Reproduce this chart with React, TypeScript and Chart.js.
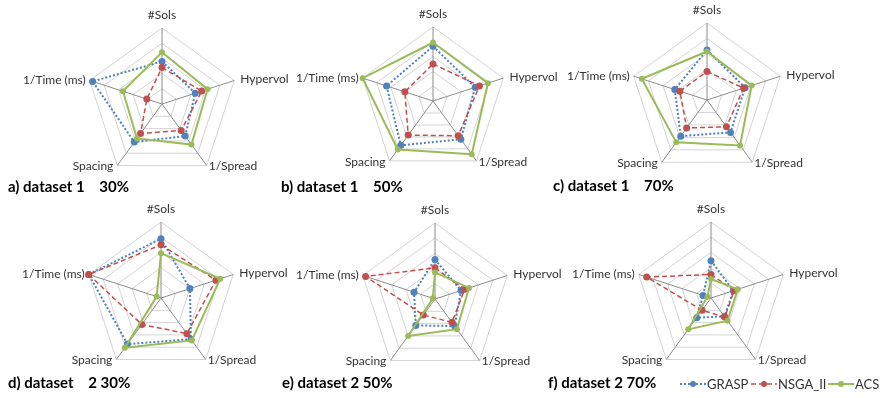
import React, { useEffect, useRef } from "react";
import { Chart, registerables } from "chart.js";

Chart.register(...registerables);

const axisLabels = ["#Sols", "Hypervol", "1/Spread", "Spacing", "1/Time (ms)"];
const seriesNames = ["GRASP", "NSGA_II", "ACS"];

const graspA = [0.56, 0.46, 0.52, 0.62, 0.96];
const nsgaA = [0.48, 0.55, 0.43, 0.48, 0.21];
const acsA = [0.68, 0.63, 0.66, 0.56, 0.54];

const graspB = [0.74, 0.6, 0.64, 0.74, 0.66];
const nsgaB = [0.5, 0.66, 0.58, 0.57, 0.4];
const acsB = [0.79, 0.78, 0.89, 0.81, 1.0];

const graspC = [0.65, 0.52, 0.52, 0.58, 0.44];
const nsgaC = [0.37, 0.5, 0.43, 0.45, 0.37];
const acsC = [0.63, 0.61, 0.73, 0.68, 0.89];

const graspD = [0.78, 0.4, 0.67, 0.75, 1.0];
const nsgaD = [0.7, 0.76, 0.58, 0.43, 1.0];
const acsD = [0.59, 0.82, 0.69, 0.81, 0.06];

const graspE = [0.52, 0.36, 0.44, 0.43, 0.29];
const nsgaE = [0.41, 0.41, 0.38, 0.26, 0.96];
const acsE = [0.35, 0.47, 0.49, 0.6, 0.03];

const graspF = [0.49, 0.31, 0.3, 0.32, 0.11];
const nsgaF = [0.31, 0.32, 0.31, 0.2, 0.89];
const acsF = [0.25, 0.37, 0.37, 0.51, 0.05];

const captions = [
  "a) dataset 1    30%",
  "b) dataset 1    50%",
  "c) dataset 1    70%",
  "d) dataset    2 30%",
  "e) dataset 2 50%",
  "f) dataset 2 70%",
];

const COLORS = ["#4F81BD", "#C0504D", "#9BBB59"];
const DASHES = [[2, 2], [5, 3], []];
const WIDTHS = [2, 1.5, 2];
const LABEL_FONT = "12px Lato, 'Open Sans', sans-serif";
const W = 880;
const H = 398;

type Panel = {
  cx: number; cy: number; r: number;
  series: number[][];
  caption: string; capX: number; capY: number;
};

const panels: Panel[] = [
  { cx: 162, cy: 104, r: 76, series: [graspA, nsgaA, acsA], caption: captions[0], capX: 8, capY: 187 },
  { cx: 433, cy: 101, r: 74, series: [graspB, nsgaB, acsB], caption: captions[1], capX: 281, capY: 187 },
  { cx: 707, cy: 100, r: 77, series: [graspC, nsgaC, acsC], caption: captions[2], capX: 553, capY: 186 },
  { cx: 161, cy: 298, r: 76, series: [graspD, nsgaD, acsD], caption: captions[3], capX: 8, capY: 383 },
  { cx: 435, cy: 299, r: 76, series: [graspE, nsgaE, acsE], caption: captions[4], capX: 282, capY: 383 },
  { cx: 711, cy: 298, r: 76, series: [graspF, nsgaF, acsF], caption: captions[5], capX: 548, capY: 383 },
];

const labelPlugin = {
  id: "manualPointLabels",
  afterDraw(chart: any) {
    const s = chart.scales.r;
    const ctx = chart.ctx;
    ctx.save();
    ctx.font = LABEL_FONT;
    ctx.fillStyle = "#333333";
    ctx.textBaseline = "middle";
    axisLabels.forEach((lab, i) => {
      const p = s.getPointPosition(i, s.drawingArea);
      let x = p.x, y = p.y, align: CanvasTextAlign = "center";
      if (i === 0) { y -= 13; }
      else if (i === 1) { x += 6; y -= 1; align = "left"; }
      else if (i === 2) { x += 2; y += 1; align = "left"; }
      else if (i === 3) { x -= 4; y += 1; align = "right"; }
      else { x -= 4; align = "right"; }
      ctx.textAlign = align;
      ctx.fillText(lab, x, y);
    });
    ctx.restore();
  },
};

function RadarPanel({ p }: { p: Panel }) {
  const ref = useRef<HTMLCanvasElement | null>(null);
  useEffect(() => {
    if (!ref.current) return;
    const chart = new Chart(ref.current, {
      type: "radar",
      data: {
        labels: axisLabels,
        datasets: p.series.map((vals, k) => ({
          label: seriesNames[k],
          data: vals,
          borderColor: COLORS[k],
          backgroundColor: COLORS[k],
          borderDash: DASHES[k],
          borderWidth: WIDTHS[k],
          pointRadius: k === 2 ? 3 : 3.5,
          pointBackgroundColor: COLORS[k],
          pointBorderColor: COLORS[k],
          pointBorderWidth: 0,
          fill: false,
          tension: 0,
          order: 3 - k,
        })),
      },
      options: {
        responsive: false,
        animation: false,
        layout: {
          padding: {
            left: p.cx - p.r,
            right: W - p.cx - p.r,
            top: p.cy - p.r,
            bottom: H - p.cy - p.r,
          },
        },
        plugins: { legend: { display: false }, tooltip: { enabled: false } },
        scales: {
          r: {
            min: 0,
            max: 1,
            ticks: { display: false, stepSize: 0.2 },
            grid: { color: "#D4D4D4", lineWidth: 1 },
            angleLines: { color: "#8C8C8C", lineWidth: 1 },
            pointLabels: { display: false },
          },
        },
      },
      plugins: [labelPlugin],
    } as any);
    return () => chart.destroy();
  }, [p]);
  return (
    <canvas
      ref={ref}
      width={W}
      height={H}
      style={{ position: "absolute", left: 0, top: 0, width: W, height: H, display: "block" }}
    />
  );
}

function LegendItem({ x, k }: { x: number; k: number }) {
  return (
    <div style={{ position: "absolute", left: x, top: 375, height: 18, display: "flex", alignItems: "center" }}>
      <svg width={26} height={18} style={{ display: "block" }}>
        <line x1={0} y1={9} x2={26} y2={9} stroke={COLORS[k]} strokeWidth={WIDTHS[k]} strokeDasharray={DASHES[k].length ? DASHES[k].join(",") : undefined} />
        <circle cx={13} cy={9} r={3} fill={COLORS[k]} />
      </svg>
      <span style={{ font: "13px Lato, 'Open Sans', sans-serif", color: "#333333", marginLeft: 1 }}>{seriesNames[k]}</span>
    </div>
  );
}

export default function App() {
  return (
    <div style={{ position: "fixed", left: 0, top: 0, width: W, height: H, background: "#fff", overflow: "hidden" }}>
      {panels.map((p, i) => (
        <RadarPanel key={i} p={p} />
      ))}
      {panels.map((p, i) => (
        <div
          key={"c" + i}
          style={{
            position: "absolute",
            left: p.capX,
            top: p.capY - 10,
            height: 20,
            lineHeight: "20px",
            whiteSpace: "pre",
            font: "bold 15px Lato, 'Open Sans', sans-serif",
            color: "#000",
          }}
        >
          {p.caption}
        </div>
      ))}
      <LegendItem x={680} k={0} />
      <LegendItem x={751} k={1} />
      <LegendItem x={828} k={2} />
    </div>
  );
}
